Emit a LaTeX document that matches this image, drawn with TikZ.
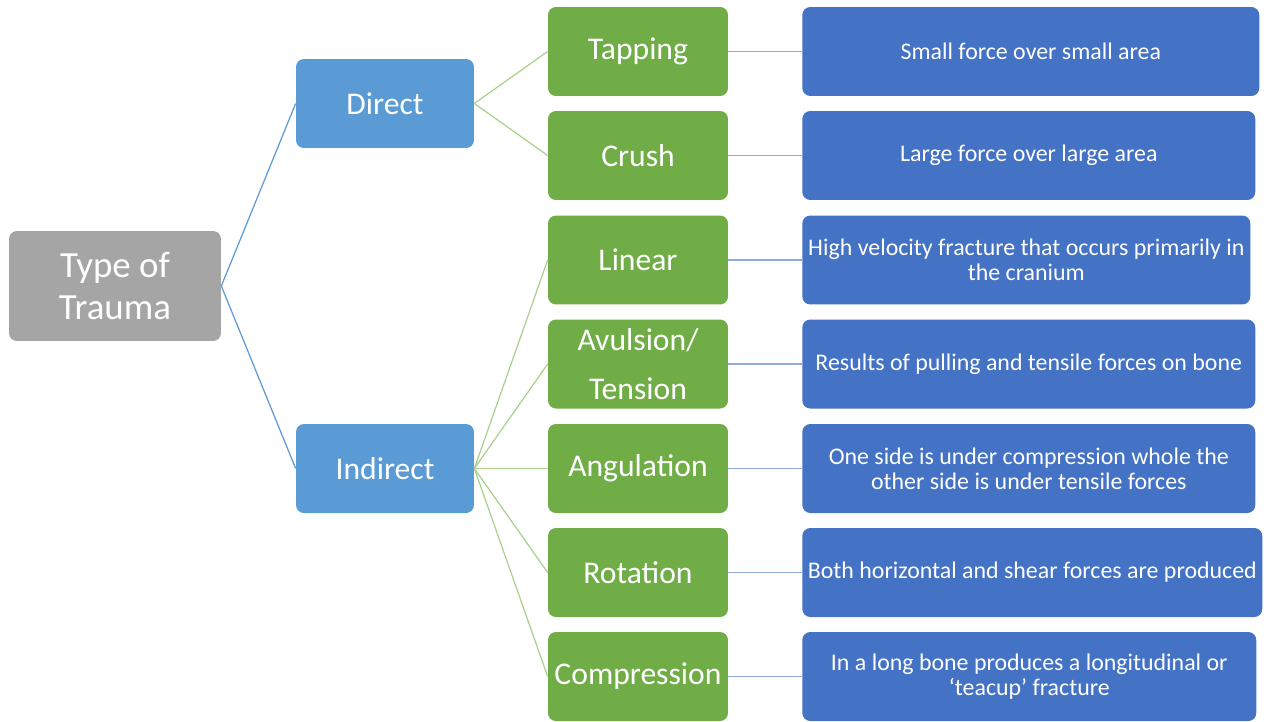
\documentclass[tikz,border=0pt]{standalone}
\usepackage{fontspec}
\setmainfont{Carlito}
\usetikzlibrary{positioning}
\definecolor{rootc}{HTML}{A5A5A5}
\definecolor{catc}{HTML}{5B9BD5}
\definecolor{typec}{HTML}{70AD47}
\definecolor{descc}{HTML}{4472C4}
\definecolor{catl}{HTML}{5B9BD5}
\definecolor{typel}{HTML}{A9D18E}
\definecolor{descl}{HTML}{8FAADC}
\tikzset{
  box/.style={rounded corners=4.5pt, align=center, text=white, inner sep=2pt,
              minimum height=1.78cm},
  rootbox/.style={box, fill=rootc, minimum width=4.24cm, minimum height=2.2cm,
                  font=\fontsize{21}{23.5}\selectfont},
  catbox/.style={box, fill=catc, minimum width=3.56cm, font=\fontsize{18}{21}\selectfont},
  typebox/.style={box, fill=typec, minimum width=3.6cm, font=\fontsize{18}{21}\selectfont},
  descbox/.style={box, fill=descc, anchor=west, font=\fontsize{13.6}{14.4}\selectfont},
  link/.style={line width=0.7pt},
}

\begin{document}
\begin{tikzpicture}[x=0.02cm, y=-0.02cm]
  \useasboundingbox (0,0) rectangle (1275,721);

  % root and categories
  \node[rootbox] (root) at (115,286) {Type of\\Trauma};
  \node[catbox] (direct) at (385,103.5) {Direct};
  \node[catbox] (indirect) at (385,468.5) {Indirect};

  % types of fracture
  \node[typebox] (tapping) at (638,51.5) {Tapping};
  \node[typebox] (crush) at (638,155.5) {Crush};
  \node[typebox] (linear) at (638,260) {Linear};
  \node[typebox] (avulsion) at (638,364) {Avulsion/\\[6.8pt]Tension};
  \node[typebox] (angulation) at (638,468.5) {Angulation};
  \node[typebox] (rotation) at (638,572.5) {Rotation};
  \node[typebox] (compression) at (638,676.5) {Compression};

  % descriptions
  \node[descbox, minimum width=9.14cm] (tappingd) at (802,51.5) {Small force over small area};
  \node[descbox, minimum width=9.06cm] (crushd) at (802,155.5) {Large force over large area};
  \node[descbox, minimum width=8.96cm] (lineard) at (802,260)
    {High velocity fracture that occurs primarily in\\the cranium};
  \node[descbox, minimum width=9.06cm] (avulsiond) at (802,364)
    {Results of pulling and tensile forces on bone};
  \node[descbox, minimum width=9.06cm] (angulationd) at (802,468.5)
    {One side is under compression whole the\\other side is under tensile forces};
  \node[descbox, minimum width=9.2cm] (rotationd) at (802,572.5)
    {Both horizontal and shear forces are produced};
  \node[descbox, minimum width=9.08cm] (compressiond) at (802,676.5)
    {In a long bone produces a longitudinal or\\`teacup' fracture};

  % connectors
  \draw[link, catl] (direct.west) -- (root.east) -- (indirect.west);
  \foreach \t in {tapping,crush} \draw[link, typel] (direct.east) -- (\t.west);
  \foreach \t in {linear,avulsion,angulation,rotation,compression}
    \draw[link, typel] (indirect.east) -- (\t.west);
  \foreach \t in {tapping,crush,linear,avulsion,angulation,rotation,compression}
    \draw[link, descl] (\t.east) -- (\t d.west);
\end{tikzpicture}
\end{document}
